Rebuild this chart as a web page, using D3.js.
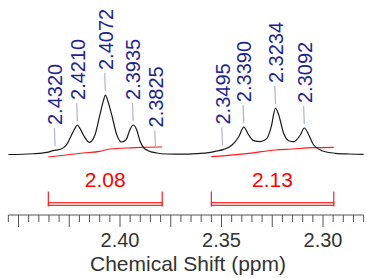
<!DOCTYPE html>
<html>
<head>
<meta charset="utf-8">
<script src="https://cdn.jsdelivr.net/npm/d3@7"></script>
<style>
  html, body { margin: 0; padding: 0; background: #fff; }
  svg { display: block; }
  text { font-family: "Liberation Sans", Arial, sans-serif; }
</style>
</head>
<body>
<svg id="chart" width="367" height="278"></svg>
<script>
// ---- data ----
// spectrum trace: [ppm, intensity]
const spectrumPpm = [2.4550, 2.4429, 2.4360, 2.4330, 2.4287, 2.4263, 2.4238, 2.4222, 2.4210, 2.4196, 2.4181, 2.4151,
  2.4123, 2.4099, 2.4082, 2.4072, 2.4060, 2.4041, 2.4016, 2.3992, 2.3970, 2.3951, 2.3935, 2.3918, 2.3901,
  2.3885, 2.3861, 2.3819, 2.3770, 2.3690, 2.3620, 2.3563, 2.3522, 2.3489, 2.3448, 2.3415, 2.3390, 2.3366,
  2.3341, 2.3309, 2.3276, 2.3255, 2.3234, 2.3218, 2.3194, 2.3169, 2.3144, 2.3112, 2.3092, 2.3070, 2.3046,
  2.3005, 2.2939, 2.2870, 2.2800];
const spectrumInt = [0, 1.3, 3.5, 6.4, 9.7, 16.5, 33.3, 44, 49.6, 43, 33.3, 20.5,
  33.3, 66.9, 90, 100, 90, 66.9, 33.3, 21, 24.9, 41.7, 49.6, 41.7, 22.2,
  12.1, 6.4, 2.5, 0.8, 0.5, 1.5, 3.0, 5.9, 8.7, 16, 29.9, 46, 32.8,
  23.2, 21.5, 27.2, 46.7, 78, 66.4, 35.6, 23.2, 21.5, 32.8, 44.5, 32.8, 16,
  6.4, 2.0, 0.8, 0.3];

// peak picks
const peakPpm = [2.4320, 2.4210, 2.4072, 2.3935, 2.3825, 2.3495, 2.3390, 2.3234, 2.3092];
const peakLabels = ["2.4320", "2.4210", "2.4072", "2.3935", "2.3825", "2.3495", "2.3390", "2.3234", "2.3092"];
const peakHeight = [7.5, 49.6, 100, 49.6, 3.4, 8.4, 46, 78, 44.5];

// integrals
const integralFrom = [2.4353, 2.3550];
const integralTo = [2.3792, 2.2947];
const integralValues = ["2.08", "2.13"];
const integralCurvePpm = [
  [2.4353, 2.4181, 2.4099, 2.4049, 2.3967, 2.3901, 2.3792],
  [2.3550, 2.3366, 2.3235, 2.3153, 2.3054, 2.2947]
];
const integralCurveInt = [
  [-4.2, 2.5, 5.4, 9.2, 10.9, 12.1, 12.6],
  [-3.7, 2.0, 7.6, 9.2, 11.4, 12.1]
];

// axis
const axisTitle = "Chemical Shift (ppm)";
const tickLabels = ["2.40", "2.35", "2.30"];
const tickLabelValues = [2.40, 2.35, 2.30];

// ---- drawing ----
const svg = d3.select("#chart");
const x = d3.scaleLinear().domain([2.455, 2.28]).range([8.35, 363.6]);
const y = d3.scaleLinear().domain([0, 100]).range([154.5, 95]);

// integral curves
const iline = d3.line().x(d => x(d[0])).y(d => y(d[1])).curve(d3.curveMonotoneX);
integralCurvePpm.forEach((arr, i) => {
  const pts = arr.map((p, j) => [p, integralCurveInt[i][j]]);
  svg.append("path").attr("d", iline(pts)).attr("fill", "none")
    .attr("stroke", "#ff1a1a").attr("stroke-width", 1.2);
});

// spectrum
const spec = spectrumPpm.map((p, i) => [p, spectrumInt[i]]);
svg.append("path")
  .attr("d", d3.line().x(d => x(d[0])).y(d => y(d[1])).curve(d3.curveMonotoneX)(spec))
  .attr("fill", "none").attr("stroke", "#1a1a1a").attr("stroke-width", 1.2);

// peak labels + leaders
peakPpm.forEach((p, i) => {
  const px = x(p);
  const py = y(peakHeight[i]);
  const labBottom = py - 25;
  svg.append("path")
    .attr("d", `M${px - 0.7},${labBottom + 3} L${px},${py - 4}`)
    .attr("stroke", "#aeb2da").attr("stroke-width", 1.2).attr("fill", "none");
  svg.append("text")
    .attr("transform", `translate(${px},${labBottom}) rotate(-90)`)
    .attr("dy", "0.36em")
    .attr("text-anchor", "start")
    .attr("font-size", 20)
    .attr("fill", "#1f2590")
    .text(peakLabels[i]);
});

// integral brackets + values
integralFrom.forEach((f, i) => {
  const x0 = x(f), x1 = x(integralTo[i]);
  svg.append("rect").attr("x", x0).attr("y", 202.5).attr("width", x1 - x0).attr("height", 3)
    .attr("fill", "#ffc0c0").attr("stroke", "#ff3030").attr("stroke-width", 1);
  [x0, x1].forEach(xx => {
    svg.append("line").attr("x1", xx).attr("x2", xx).attr("y1", 191.5).attr("y2", 206.5)
      .attr("stroke", "#ff2020").attr("stroke-width", 1.2);
  });
  svg.append("text").attr("x", (x0 + x1) / 2).attr("y", 186.5)
    .attr("text-anchor", "middle").attr("font-size", 21).attr("fill", "#ff0000")
    .text(integralValues[i]);
});

// axis
const axisY = 215;
const ag = svg.append("g");
ag.append("line").attr("x1", x(2.455)).attr("x2", x(2.28)).attr("y1", axisY).attr("y2", axisY)
  .attr("stroke", "#555").attr("stroke-width", 1);
const minor = d3.range(0, 36).map(k => +(2.455 - k * 0.005).toFixed(3));
minor.forEach(v => {
  const major = Math.abs(Math.round(v / 0.025) * 0.025 - v) < 1e-6;
  ag.append("line").attr("x1", x(v)).attr("x2", x(v))
    .attr("y1", axisY).attr("y2", axisY + (major ? 12 : 7))
    .attr("stroke", "#555").attr("stroke-width", 1);
});
tickLabelValues.forEach((v, i) => {
  ag.append("text").attr("x", x(v)).attr("y", 247).attr("text-anchor", "middle")
    .attr("font-size", 20).attr("fill", "#333").text(tickLabels[i]);
});
svg.append("text").attr("x", 188).attr("y", 271).attr("text-anchor", "middle")
  .attr("font-size", 21).attr("fill", "#333").text(axisTitle);
</script>
</body>
</html>
